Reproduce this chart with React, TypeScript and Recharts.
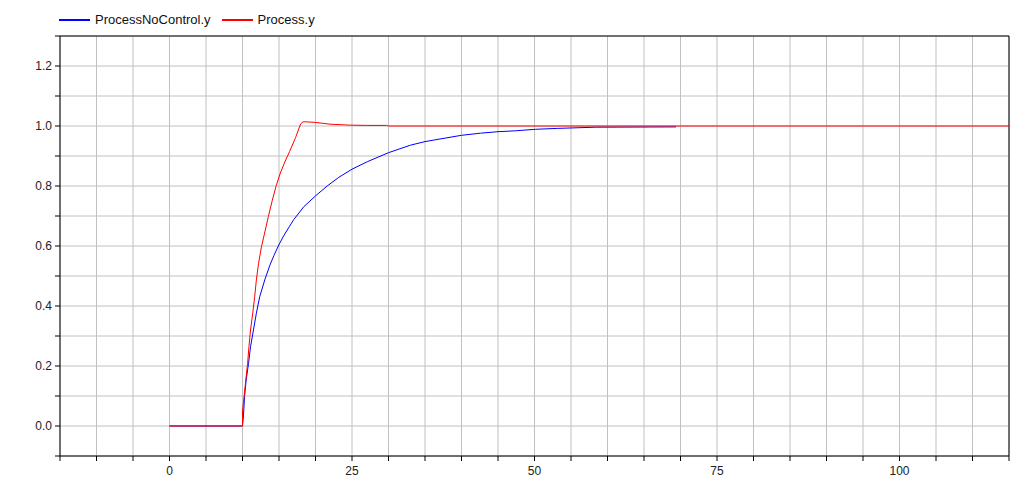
import React from 'react';
import { LineChart, Line, XAxis, YAxis, CartesianGrid, ReferenceLine } from 'recharts';

// Process.y (closed loop)
const processT = [0, 10, 10, 10.14, 10.5, 10.7, 10.88, 11.1, 11.4, 11.67, 11.9, 12.2, 12.6, 13.0, 13.54, 14.09, 14.63, 15.18, 15.8, 16.45, 17.28, 17.97, 18.3, 18.65, 20.0, 22.0, 24.6, 27, 29.7, 30, 115];
const processY = [0, 0, 0.05, 0.081, 0.164, 0.209, 0.264, 0.32, 0.376, 0.431, 0.487, 0.542, 0.598, 0.64, 0.698, 0.753, 0.802, 0.843, 0.88, 0.915, 0.962, 1.007, 1.014, 1.014, 1.012, 1.006, 1.003, 1.002, 1.002, 1.0, 1.0];

// ProcessNoControl.y (open loop)
const noControlT = [0, 10, 10.14, 10.28, 10.5, 10.83, 11.1, 11.5, 11.9, 12.36, 13.05, 13.75, 14.3, 14.9, 15.64, 16.4, 17.02, 18.4, 20.0, 21.6, 23.2, 25.0, 27.1, 30.0, 33.0, 35, 37.6, 40, 42.6, 45, 47.4, 50.1, 53.1, 58.4, 69.4];
const noControlY = [0, 0, 0.037, 0.098, 0.153, 0.209, 0.264, 0.32, 0.376, 0.431, 0.487, 0.536, 0.568, 0.6, 0.634, 0.664, 0.688, 0.731, 0.767, 0.8, 0.829, 0.856, 0.881, 0.911, 0.936, 0.948, 0.959, 0.969, 0.976, 0.981, 0.984, 0.989, 0.992, 0.996, 0.997];

const xTicks = [-15, -10, -5, 0, 5, 10, 15, 20, 25, 30, 35, 40, 45, 50, 55, 60, 65, 70, 75, 80, 85, 90, 95, 100, 105, 110, 115];
const xLabels = [0, 25, 50, 75, 100];
const yTicks = [-0.1, 0, 0.1, 0.2, 0.3, 0.4, 0.5, 0.6, 0.7, 0.8, 0.9, 1.0, 1.1, 1.2, 1.3];
const yLabels = [0, 0.2, 0.4, 0.6, 0.8, 1.0, 1.2];

const toPoints = (t: number[], y: number[]) => t.map((v, i) => ({ t: v, y: y[i] }));

const series = [
  { name: 'ProcessNoControl.y', color: '#0000ff', data: toPoints(noControlT, noControlY) },
  { name: 'Process.y', color: '#ff0000', data: toPoints(processT, processY) },
];

const FONT = '"Liberation Sans", Arial, Helvetica, sans-serif';

const App: React.FC = () => {
  const fmtX = (v: number) => (xLabels.includes(v) ? String(v) : '');
  const fmtY = (v: number) =>
    yLabels.some(l => Math.abs(l - v) < 1e-6) ? v.toFixed(1) : '';

  return (
    <div style={{ position: 'absolute', left: 0, top: 0, width: 1034, height: 481, background: '#fff', fontFamily: FONT }}>
      <div style={{ position: 'absolute', left: 59, top: 12, display: 'flex', alignItems: 'center', fontSize: 13, color: '#111' }}>
        {series.map(s => (
          <div key={s.name} style={{ display: 'flex', alignItems: 'center', marginRight: 11 }}>
            <div style={{ width: 31, height: 2, backgroundColor: s.color, marginRight: 5 }} />
            <span>{s.name}</span>
          </div>
        ))}
      </div>
      <LineChart width={1034} height={481} margin={{ top: 36, right: 25, bottom: 0, left: 0 }}>
        <CartesianGrid stroke="#c0c0c0" strokeWidth={1} />
        <XAxis
          dataKey="t"
          type="number"
          domain={[-15, 115]}
          ticks={xTicks}
          tickFormatter={fmtX}
          interval={0}
          height={25}
          tickSize={5}
          tickMargin={5}
          stroke="#000"
          tick={{ fill: '#222', fontSize: 12, fontFamily: FONT }}
          allowDuplicatedCategory={false}
        />
        <YAxis
          type="number"
          domain={[-0.1, 1.3]}
          ticks={yTicks}
          tickFormatter={fmtY}
          interval={0}
          width={60}
          tickSize={5}
          tickMargin={3}
          stroke="#000"
          tick={{ fill: '#222', fontSize: 12, fontFamily: FONT }}
        />
        <ReferenceLine y={1.3} stroke="#000" />
        <ReferenceLine x={115} stroke="#000" />
        {series.map(s => (
          <Line
            key={s.name}
            data={s.data}
            dataKey="y"
            name={s.name}
            type="linear"
            stroke={s.color}
            strokeWidth={1}
            dot={false}
            isAnimationActive={false}
          />
        ))}
      </LineChart>
    </div>
  );
};

export default App;
